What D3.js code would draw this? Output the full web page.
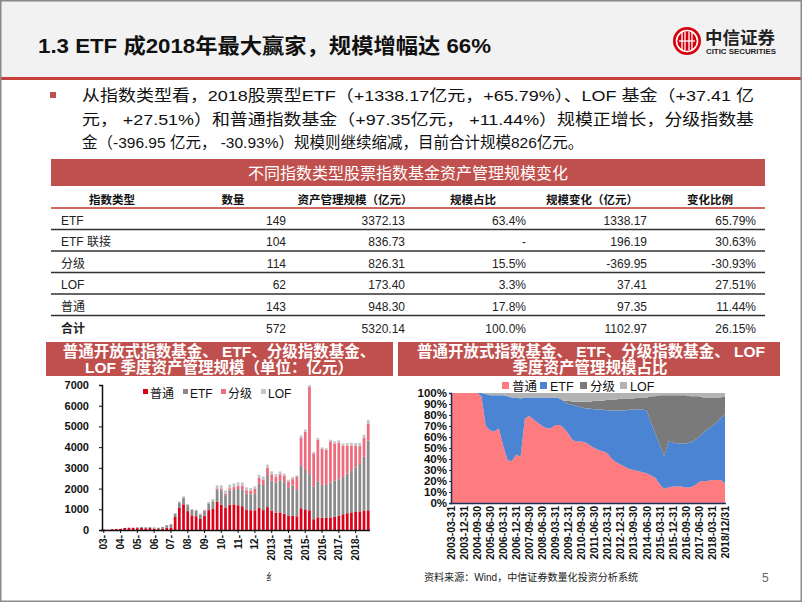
<!DOCTYPE html>
<html><head><meta charset="utf-8">
<script src="https://cdn.jsdelivr.net/npm/d3@7"></script>
<style>
body{margin:0;background:#fff}
svg{display:block}
text{font-family:"Liberation Sans",Arial,"Noto Sans CJK SC",sans-serif}
</style>
</head><body>
<svg id="c" width="802" height="602"></svg>
<script>
// ---------------- DATA ----------------
const quarters = [
"2003-03-31","2003-06-30","2003-09-30","2003-12-31","2004-03-31","2004-06-30","2004-09-30","2004-12-31",
"2005-03-31","2005-06-30","2005-09-30","2005-12-31","2006-03-31","2006-06-30","2006-09-30","2006-12-31",
"2007-03-31","2007-06-30","2007-09-30","2007-12-31","2008-03-31","2008-06-30","2008-09-30","2008-12-31",
"2009-03-31","2009-06-30","2009-09-30","2009-12-31","2010-03-31","2010-06-30","2010-09-30","2010-12-31",
"2011-03-31","2011-06-30","2011-09-30","2011-12-31","2012-03-31","2012-06-30","2012-09-30","2012-12-31",
"2013-03-31","2013-06-30","2013-09-30","2013-12-31","2014-03-31","2014-06-30","2014-09-30","2014-12-31",
"2015-03-31","2015-06-30","2015-09-30","2015-12-31","2016-03-31","2016-06-30","2016-09-30","2016-12-31",
"2017-03-31","2017-06-30","2017-09-30","2017-12-31","2018-03-31","2018-06-30","2018-09-30","2018-12-31"];
const seriesNames = ["普通","ETF","分级","LOF"];

// left chart: quarterly AUM (亿元)
const barPutong = [25,5,40,50, 60,100,110,105, 90,100,85,95, 62,43,57,105,
  122,630,1090,1240, 910,705,665,535, 695,960,1020,1360, 1230,1070,1225,1240,
  1195,1150,990,955, 950,1070,960,1105, 935,835,850,790, 680,690,660,1050,
  1000,950,520,610, 600,590,610,640, 690,760,810,851, 870,900,940,948];
const barETF = [0,0,0,0, 0,0,0,5, 38,47,43,42, 55,63,87,125,
  154,160,235,325, 290,265,275,220, 245,325,360,585, 690,610,680,695,
  785,805,760,770, 825,1175,1215,1550, 1445,1460,1555,1520, 1385,1460,1265,2050,
  1900,1750,1590,1740, 1580,1580,1690,1740, 1760,1800,1910,2034, 2150,2290,2590,3372];
const barFenji = [0,0,0,0, 0,0,0,0, 0,0,0,0, 0,0,0,0,
  0,0,0,0, 0,0,0,0, 0,0,15,65, 65,75,110,135,
  140,185,165,165, 210,265,260,350, 310,270,285,300, 270,305,635,1340,
  1850,4200,1590,2010, 1730,1700,1980,1800, 1770,1500,1350,1196, 1040,860,910,826];
const barLOF = [0,0,0,0, 0,0,0,0, 2,3,2,3, 3,4,6,10,
  14,30,55,65, 50,40,40,35, 40,65,105,150, 175,155,175,180,
  180,160,145,140, 125,160,155,155, 140,135,140,110, 95,105,80,130,
  100,100,70,80, 80,80,80,100, 110,120,130,136, 140,150,160,173];
const leftYTicks = [0,1000,2000,3000,4000,5000,6000,7000];
const leftXLabels = ["03-","04-","05-","06-","07-","08-","09-","10-","11-","12-","2013-","2014-","2015-","2016-","2017-","2018-"];

// right chart: share (%)
const pctPutong = [100,100,100,100,100,100,100,97, 70,66,65,68, 52,39,38,44,
  42,77,79,76, 73,70,68,68, 71,71,68,63, 57,56,56,55,
  52,50,48,47, 45,40,37,35, 33,31,30,29, 28,27,25,23,
  17,13,14,15, 15,15,14,14, 16,19,20,20, 21,21,21,18];
const pctETF = [0,0,0,0, 0,0,0,3, 29,32,33,30, 46,58,58,52,
  53,19,17,20, 23,26,28,28, 25,24,24,27, 32,32,31,31,
  34,35,37,38, 39,44,47,49, 51,54,55,56, 57,57,48,40,
  36,29,42,40, 39,39,40,41, 41,41,44,47, 49,52,56,63];
const pctFenji = [0,0,0,0, 0,0,0,0, 0,0,0,0, 0,0,0,0,
  0,0,0,0, 0,0,0,0, 0,0,1,3, 3,4,5,6,
  6,8,8,8, 10,10,10,11, 11,10,10,11, 11,12,24,34,
  45,56,42,43, 44,44,44,42, 40,37,32,29, 26,23,19,16];
const pctLOF = [0,0,0,0, 0,0,0,0, 1,2,2,2, 2,3,4,4,
  5,4,4,4, 4,4,4,4, 4,5,7,7, 8,8,8,8,
  8,7,7,7, 6,6,6,5, 5,5,5,4, 4,4,3,3,
  2,2,2,2, 2,2,2,3, 3,3,4,4, 4,4,4,3];
const rightYTicks = [0,10,20,30,40,50,60,70,80,90,100];
const rightXLabels = ["2003-03-31","2003-12-31","2004-09-30","2005-06-30","2006-03-31","2006-12-31","2007-09-30","2008-06-30","2009-03-31","2009-12-31","2010-09-30","2011-06-30","2012-03-31","2012-12-31","2013-09-30","2014-06-30","2015-03-31","2015-12-31","2016-09-30","2017-06-30","2018-03-31","2018/12/31"];

// table
const tableHeaders = ["指数类型","数量","资产管理规模（亿元）","规模占比","规模变化（亿元）","变化比例"];
const tableTypes = ["ETF","ETF 联接","分级","LOF","普通","合计"];
const tableCount = ["149","104","114","62","143","572"];
const tableAUM = ["3372.13","836.73","826.31","173.40","948.30","5320.14"];
const tableShare = ["63.4%","-","15.5%","3.3%","17.8%","100.0%"];
const tableChange = ["1338.17","196.19","-369.95","37.41","97.35","1102.97"];
const tableChangePct = ["65.79%","30.63%","-30.93%","27.51%","11.44%","26.15%"];

// text
const titleText = "1.3 ETF 成2018年最大赢家，规模增幅达 66%";
const bulletLines = [
 "从指数类型看，2018股票型ETF（+1338.17亿元，+65.79%）、LOF 基金（+37.41 亿",
 "元， +27.51%）和普通指数基金（+97.35亿元， +11.44%）规模正增长，分级指数基",
 "金（-396.95 亿元， -30.93%）规模则继续缩减，目前合计规模826亿元。"];

// ---------------- DRAW ----------------
const svg = d3.select("#c");
const RED = "#c0504d";

// header
svg.append("rect").attr("x",0).attr("y",0).attr("width",802).attr("height",77).attr("fill","#f2f2f2");
svg.append("rect").attr("x",0).attr("y",77).attr("width",802).attr("height",3).attr("fill","#c8403c");
svg.append("text").attr("x",38).attr("y",53).attr("font-size",21).attr("font-weight","bold")
  .attr("fill","#111").attr("textLength",453).attr("lengthAdjust","spacingAndGlyphs").text(titleText);

// logo
const logo = svg.append("g");
logo.append("circle").attr("cx",687).attr("cy",41).attr("r",14).attr("fill","#d7000f");
logo.append("circle").attr("cx",687).attr("cy",41).attr("r",10.5).attr("fill","none").attr("stroke","#fff").attr("stroke-width",1.6);
[-5,-2,2,5].forEach(dx=>logo.append("line").attr("x1",687+dx).attr("x2",687+dx).attr("y1",32).attr("y2",50).attr("stroke","#fff").attr("stroke-width",1.3));
logo.append("line").attr("x1",679).attr("x2",695).attr("y1",41).attr("y2",41).attr("stroke","#fff").attr("stroke-width",1.3);
logo.append("text").attr("x",705).attr("y",44).attr("font-size",17).attr("font-weight","bold").attr("fill","#222")
  .attr("textLength",70).attr("lengthAdjust","spacingAndGlyphs").text("中信证券");
logo.append("text").attr("x",706).attr("y",54).attr("font-size",7).attr("font-weight","bold").attr("fill","#222")
  .attr("textLength",70).attr("lengthAdjust","spacingAndGlyphs").text("CITIC SECURITIES");

// bullet
svg.append("rect").attr("x",50).attr("y",92).attr("width",6).attr("height",6).attr("fill",RED);
bulletLines.forEach((t,i)=>{
  const tx = svg.append("text").attr("x",82).attr("y",101+i*23.5).attr("font-size",15.5).attr("fill","#111").text(t);
  if(i<2) tx.attr("textLength",672).attr("lengthAdjust","spacingAndGlyphs");
});

// table
svg.append("rect").attr("x",51).attr("y",159).attr("width",714).attr("height",27).attr("fill",RED);
svg.append("text").attr("x",408).attr("y",178.5).attr("text-anchor","middle").attr("font-size",16).attr("fill","#fff")
  .text("不同指数类型股票指数基金资产管理规模变化");
const hdrX = [112,233,355,473,592,710];
tableHeaders.forEach((h,i)=>svg.append("text").attr("x",hdrX[i]).attr("y",203.5).attr("text-anchor","middle")
  .attr("font-size",11.5).attr("font-weight","bold").attr("fill","#111").text(h));
svg.append("line").attr("x1",51).attr("x2",765).attr("y1",208).attr("y2",208).attr("stroke","#c0392b").attr("stroke-width",1.5);
const rowLines = [229.5,251,272.5,294,315.5];
rowLines.forEach(y=>svg.append("line").attr("x1",51).attr("x2",765).attr("y1",y).attr("y2",y).attr("stroke","#333").attr("stroke-width",1.5));
const colRight = [286,405,526,647,756];
const cols = [tableCount,tableAUM,tableShare,tableChange,tableChangePct];
tableTypes.forEach((t,r)=>{
  const y = 224.5 + r*21.6;
  svg.append("text").attr("x",61).attr("y",y).attr("font-size",12).attr("fill","#222")
    .attr("font-weight", r===5?"bold":"normal").text(t);
  cols.forEach((c,k)=>svg.append("text").attr("x",colRight[k]).attr("y",y).attr("text-anchor","end")
    .attr("font-size",12).attr("fill","#222").text(c[r]));
});

// ---------- Left chart ----------
svg.append("rect").attr("x",46).attr("y",342).attr("width",347).attr("height",34).attr("fill",RED);
svg.append("text").attr("x",219).attr("y",356.5).attr("text-anchor","middle").attr("font-size",15.5).attr("font-weight","bold").attr("fill","#fff")
  .text("普通开放式指数基金、 ETF、分级指数基金、");
svg.append("text").attr("x",219).attr("y",372.5).attr("text-anchor","middle").attr("font-size",15.5).attr("font-weight","bold").attr("fill","#fff")
  .text("LOF 季度资产管理规模（单位：亿元）");

const barColors = {"普通":"#dc0018","ETF":"#8a8a8a","分级":"#ee6a7c","LOF":"#c4c4c4"};
const barRows = quarters.map((q,i)=>({q, "普通":barPutong[i], "ETF":barETF[i], "分级":barFenji[i], "LOF":barLOF[i]}));
const xL = d3.scaleBand().domain(quarters).range([102,370]).paddingInner(0.35).paddingOuter(0.1);
const yL = d3.scaleLinear().domain([0,7000]).range([530,385]);
const stackL = d3.stack().keys(seriesNames)(barRows);
const gL = svg.append("g");
gL.selectAll("g").data(stackL).join("g").attr("fill",d=>barColors[d.key])
  .selectAll("rect").data(d=>d).join("rect")
  .attr("x",d=>xL(d.data.q)).attr("width",xL.bandwidth())
  .attr("y",d=>yL(d[1])).attr("height",d=>Math.max(0,yL(d[0])-yL(d[1])));

const axL = svg.append("g").attr("transform","translate(102,0)")
  .call(d3.axisLeft(yL).tickValues(leftYTicks).tickSize(3).tickPadding(10).tickFormat(d3.format("d")));
axL.select(".domain").attr("stroke","#111").attr("stroke-width",1.5);
axL.selectAll(".tick line").attr("stroke","#111");
axL.selectAll("text").attr("font-size",11).attr("font-weight","bold").attr("fill","#111")
  .attr("font-family","'Liberation Sans',Arial,sans-serif");
svg.append("line").attr("x1",101).attr("x2",370).attr("y1",530.5).attr("y2",530.5).attr("stroke","#111").attr("stroke-width",1.5);
leftXLabels.forEach((lab,k)=>{
  const q = quarters[k*4];
  const cx = xL(q)+xL.bandwidth()/2;
  svg.append("line").attr("x1",cx).attr("x2",cx).attr("y1",530).attr("y2",533).attr("stroke","#111");
  svg.append("text").attr("transform",`translate(${cx+3.5},535) rotate(-90)`).attr("text-anchor","end")
    .attr("font-size",10).attr("font-weight","bold").attr("fill","#111").text(lab);
});
// left legend
const legL = [[143,"普通"],[183,"ETF"],[221,"分级"],[261,"LOF"]];
legL.forEach(([x,k])=>{
  svg.append("rect").attr("x",x).attr("y",389).attr("width",5).attr("height",5).attr("fill",barColors[k]);
  svg.append("text").attr("x",x+7).attr("y",397.5).attr("font-size",12).attr("fill","#111").text(k);
});

// ---------- Right chart ----------
svg.append("rect").attr("x",398).attr("y",342).attr("width",382).attr("height",34).attr("fill",RED);
svg.append("text").attr("x",591).attr("y",356.5).attr("text-anchor","middle").attr("font-size",15.5).attr("font-weight","bold").attr("fill","#fff")
  .text("普通开放式指数基金、 ETF、分级指数基金、 LOF");
svg.append("text").attr("x",590).attr("y",372.5).attr("text-anchor","middle").attr("font-size",15.5).attr("font-weight","bold").attr("fill","#fff")
  .text("季度资产管理规模占比");

const areaColors = {"普通":"#fe7b80","ETF":"#4a84d3","分级":"#7a7a7a","LOF":"#b3b3b3"};
const pctRows = quarters.map((q,i)=>({q, "普通":pctPutong[i], "ETF":pctETF[i], "分级":pctFenji[i], "LOF":pctLOF[i]}));
const xR = d3.scalePoint().domain(quarters).range([451,725]);
const yR = d3.scaleLinear().domain([0,100]).range([503,393]);
const stackR = d3.stack().keys(seriesNames)(pctRows);
const area = d3.area().x(d=>xR(d.data.q)).y0(d=>yR(d[0])).y1(d=>yR(d[1]));
svg.append("g").selectAll("path").data(stackR).join("path").attr("d",area).attr("fill",d=>areaColors[d.key]);

const axR = svg.append("g").attr("transform","translate(451,0)")
  .call(d3.axisLeft(yR).tickValues(rightYTicks).tickSize(2).tickPadding(2).tickFormat(d=>d+"%"));
axR.select(".domain").attr("stroke","#1f3060").attr("stroke-width",1.5);
axR.selectAll(".tick line").attr("stroke","#1f3060");
axR.selectAll("text").attr("font-size",11.5).attr("font-weight","bold").attr("fill","#111")
  .attr("font-family","'Liberation Sans',Arial,sans-serif");
svg.append("line").attr("x1",450).attr("x2",726).attr("y1",503.5).attr("y2",503.5).attr("stroke","#1f3060").attr("stroke-width",1.5);
rightXLabels.forEach((lab,k)=>{
  const cx = xR(quarters[k*3]);
  svg.append("text").attr("transform",`translate(${cx+3.8},506) rotate(-90)`).attr("text-anchor","end")
    .attr("font-size",10.5).attr("font-weight","bold").attr("fill","#111").text(lab);
});
const legR = [[502,"普通"],[540,"ETF"],[580,"分级"],[620,"LOF"]];
legR.forEach(([x,k])=>{
  svg.append("rect").attr("x",x).attr("y",382).attr("width",7).attr("height",7).attr("fill",areaColors[k]);
  svg.append("text").attr("x",x+10).attr("y",390.5).attr("font-size",12.5).attr("fill","#111").text(k);
});

// footer
svg.append("text").attr("x",266).attr("y",581).attr("font-size",10.5).attr("fill","#333").text("纟");
svg.append("text").attr("x",424).attr("y",581).attr("font-size",10.5).attr("fill","#222")
  .attr("textLength",214).attr("lengthAdjust","spacingAndGlyphs").text("资料来源：Wind，中信证券数量化投资分析系统");
svg.append("text").attr("x",762).attr("y",582).attr("font-size",12).attr("fill","#666").text("5");

// page frame
svg.append("rect").attr("x",0.75).attr("y",0.75).attr("width",800.5).attr("height",600.5)
  .attr("fill","none").attr("stroke","#8a8a8a").attr("stroke-width",1.5);
</script>
</body></html>
